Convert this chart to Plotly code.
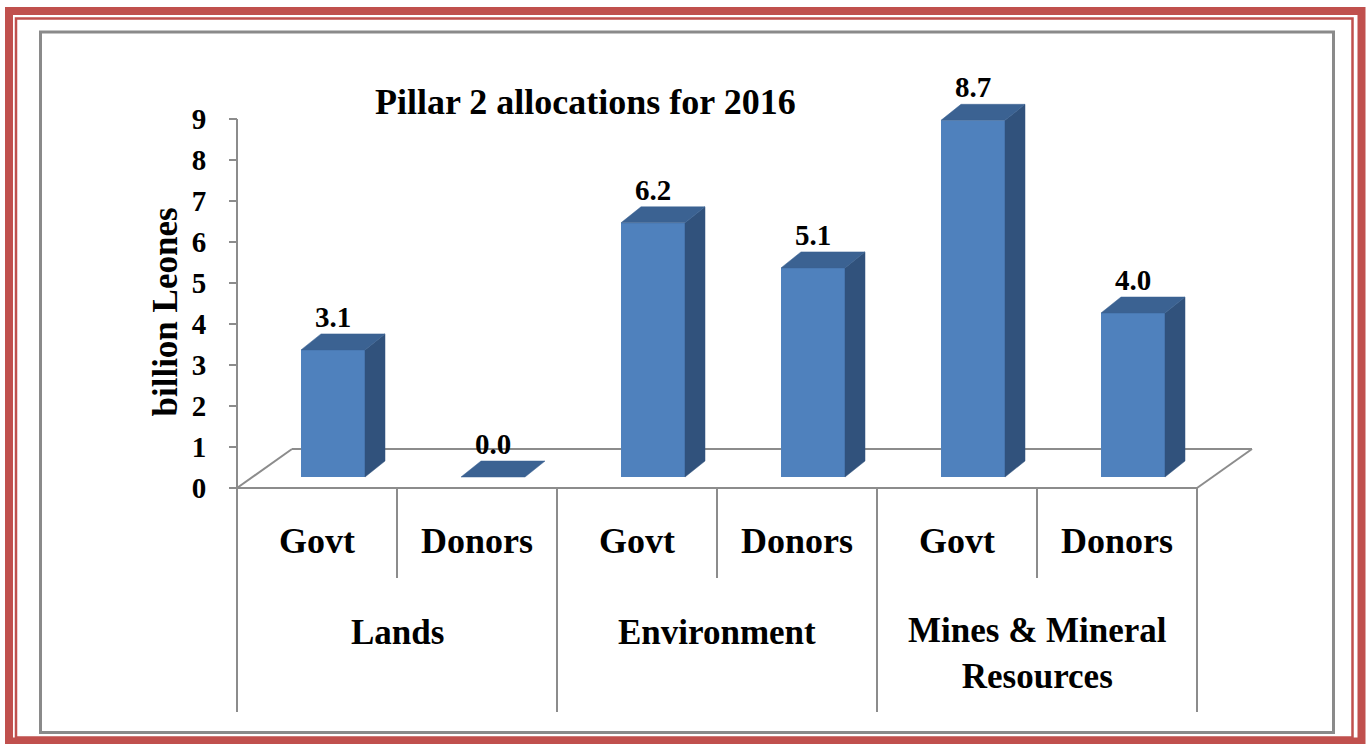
import plotly.graph_objects as go

# ---------------- data ----------------
groups = ["Lands", "Environment", "Mines & Mineral<br>Resources"]
sources = ["Govt", "Donors"]
values = [3.1, 0.0, 6.2, 5.1, 8.7, 4.0]          # Govt/Donors for each group
y_ticks = [0, 1, 2, 3, 4, 5, 6, 7, 8, 9]
title_text = "Pillar 2 allocations for 2016"
y_title = "billion Leones"

# ---------------- layout geometry (pixels) ----------------
W, H = 1370, 744
X0_PX, UX = 237, 160.0       # pixel of x=0, px per category slot
Y0_PX, UY = 488, 41.0        # pixel of y=0, px per unit

def px_x(px):
    return (px - X0_PX) / UX

def px_y(py):
    return (Y0_PX - py) / UY

FLOOR_DX, FLOOR_DY = 55 / UX, 39 / UY
FRONT_DX, FRONT_DY = 16 / UX, 11 / UY
BAR_DX, BAR_DY = 20 / UX, 16 / UY
BAR_W = 0.4

FRONT_C = "#4f81bd"
SIDE_C = "#31527c"
TOP_C = "#3b6292"
GRID_C = "#8c8c8c"
FONT = "Liberation Serif, Times New Roman, serif"

n = len(values)
centers = [i + 0.5 + FRONT_DX for i in range(n)]
base = FRONT_DY

fig = go.Figure()

# front faces
fig.add_trace(go.Bar(
    x=centers, y=values, base=[base] * n, width=BAR_W,
    marker=dict(color=FRONT_C, line=dict(width=0)),
    hoverinfo="skip", showlegend=False,
))

# side and top faces
for c, v in zip(centers, values):
    xl, xr = c - BAR_W / 2, c + BAR_W / 2
    top = base + v
    if v > 0:
        fig.add_trace(go.Scatter(
            x=[xr, xr + BAR_DX, xr + BAR_DX, xr, xr],
            y=[base, base + BAR_DY, top + BAR_DY, top, base],
            fill="toself", fillcolor=SIDE_C, mode="lines",
            line=dict(width=0.5, color=SIDE_C),
            hoverinfo="skip", showlegend=False))
    fig.add_trace(go.Scatter(
        x=[xl, xr, xr + BAR_DX, xl + BAR_DX, xl],
        y=[top, top, top + BAR_DY, top + BAR_DY, top],
        fill="toself", fillcolor=TOP_C, mode="lines",
        line=dict(width=0.5, color=TOP_C),
        hoverinfo="skip", showlegend=False))

# value labels
fig.add_trace(go.Scatter(
    x=centers, y=[base + v + BAR_DY for v in values],
    mode="text", text=[f"{v:.1f}" for v in values],
    textposition="top center",
    textfont=dict(family=FONT, size=29, color="black", weight="bold"),
    hoverinfo="skip", showlegend=False, cliponaxis=False))

shapes = []
# floor
floor_lines = [
    (0, 0, n, 0),
    (0, 0, FLOOR_DX, FLOOR_DY),
    (FLOOR_DX, FLOOR_DY, n + FLOOR_DX, FLOOR_DY),
    (n, 0, n + FLOOR_DX, FLOOR_DY),
]
for x0, y0, x1, y1 in floor_lines:
    shapes.append(dict(type="line", xref="x", yref="y", x0=x0, y0=y0, x1=x1, y1=y1,
                       line=dict(color=GRID_C, width=2), layer="below"))
# y axis line
shapes.append(dict(type="line", xref="x", yref="y", x0=0, y0=max(y_ticks), x1=0, y1=px_y(712),
                   line=dict(color=GRID_C, width=2), layer="below"))
# category dividers
for k in range(1, n + 1):
    yb = px_y(578) if k % 2 == 1 else px_y(712)
    shapes.append(dict(type="line", xref="x", yref="y", x0=k, y0=0, x1=k, y1=yb,
                       line=dict(color=GRID_C, width=2), layer="below"))

# borders (paper coords = pixels since plot area fills figure)
def rect(l, t, r, b, color, width):
    return dict(type="rect", xref="paper", yref="paper",
                x0=l / W, x1=r / W, y0=1 - b / H, y1=1 - t / H,
                line=dict(color=color, width=width), fillcolor="rgba(0,0,0,0)", layer="above")

shapes.append(rect(9, 11, 1361.5, 741.5, "#c0504d", 8))
shapes.append(rect(16, 18.5, 1352.5, 737.5, "#c0504d", 2.5))
shapes.append(rect(40.5, 32, 1333.5, 732.5, "#8a8a8a", 3))

annotations = []
# sub-category labels
for i in range(n):
    annotations.append(dict(x=i + 0.5, y=px_y(541), xref="x", yref="y",
                            text=sources[i % 2], showarrow=False,
                            font=dict(family=FONT, size=36, color="black", weight="bold")))
# group labels
for g, name in enumerate(groups):
    yc = px_y(653) if "<br>" in name else px_y(632)
    annotations.append(dict(x=2 * g + 1, y=yc, xref="x", yref="y",
                            text=name, showarrow=False,
                            font=dict(family=FONT, size=35, color="black", weight="bold")))
# title
annotations.append(dict(x=585 / W, y=1 - 80 / H, xref="paper", yref="paper",
                        text=title_text, showarrow=False,
                        font=dict(family=FONT, size=36, color="black", weight="bold")))
# y title
annotations.append(dict(x=143 / W, y=1 - 312 / H, xref="paper", yref="paper",
                        text=y_title, showarrow=False, textangle=-90,
                        font=dict(family=FONT, size=35, color="black", weight="bold")))

fig.update_layout(
    width=W, height=H,
    margin=dict(l=0, r=0, t=0, b=0),
    paper_bgcolor="white", plot_bgcolor="white",
    template="none",
    showlegend=False,
    barmode="overlay",
    shapes=shapes,
    annotations=annotations,
    xaxis=dict(range=[px_x(0), px_x(W)], visible=False, fixedrange=True, automargin=False),
    yaxis=dict(range=[px_y(H), px_y(0)], anchor="free", position=X0_PX / W,
               tickmode="array", tickvals=y_ticks, ticktext=[str(t) for t in y_ticks],
               ticks="outside", ticklen=8, tickwidth=2, tickcolor=GRID_C,
               ticklabelstandoff=17,
               showline=False, showgrid=False, zeroline=False, automargin=False,
               tickfont=dict(family=FONT, size=29, color="black", weight="bold"),
               fixedrange=True),
)

fig.write_html(
    "out.html",
    config={"displayModeBar": False},
    post_script="document.body.style.margin='0px';document.body.style.overflow='hidden';",
)
